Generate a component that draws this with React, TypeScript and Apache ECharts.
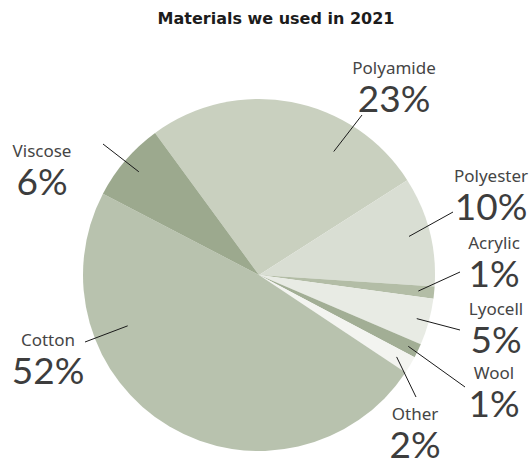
import React, { useEffect, useRef } from "react";
import * as echarts from "echarts";

// Data (clockwise from the Polyamide slice)
const materials = ["Polyamide", "Polyester", "Acrylic", "Lyocell", "Wool", "Other", "Cotton", "Viscose"];
// slice shares as drawn in the picture
const shares = [26.0, 10.1, 1.1, 4.3, 1.3, 1.6, 48.3, 7.3];
// printed percentage labels
const percentLabels = ["23%", "10%", "1%", "5%", "1%", "2%", "52%", "6%"];
const titleText = "Materials we used in 2021";

// Styling / layout (not data)
const colors = ["#c9d0bf", "#d9ded3", "#b3bda6", "#e8ebe4", "#a2ae95", "#f3f4f0", "#b8c2ae", "#9ca98e"];
const CX = 259;
const CY = 275;
const R = 176;
const START_ANGLE = 126.2;
// label block anchors: [centerX, nameCenterY]
const labelAnchors = [[394, 67], [491, 175], [494, 242], [496, 308], [494, 372], [415, 413], [48, 339], [42, 150]];
// label line outer ends
const lineEnds = [[362, 115], [453, 212], [460, 272], [460, 330], [465, 387], [416, 397], [85, 342], [103, 144]];
// where the line starts inside the slice: [fraction along slice, fraction of radius]
const lineStarts = [[0.72, 0.82], [0.5, 0.88], [0.5, 0.91], [0.5, 0.93], [0.5, 0.94], [0.5, 0.91], [0.72, 0.8], [0.5, 0.9]];

const TITLE_FONT = "'DejaVu Sans', sans-serif";
const NAME_FONT = "'Noto Sans', sans-serif";
const VALUE_FONT = "Lato, sans-serif";

export default function App() {
  const ref = useRef<HTMLDivElement>(null);
  useEffect(() => {
    document.body.style.margin = "0";
    const chart = echarts.init(ref.current!, null, { renderer: "svg" });
    const total = shares.reduce((a, b) => a + b, 0);
    const starts: number[] = [];
    let acc = 0;
    shares.forEach((v) => {
      starts.push(acc);
      acc += v;
    });
    const startPoint = (i: number) => {
      const [f, rf] = lineStarts[i];
      const deg = START_ANGLE - ((starts[i] + shares[i] * f) / total) * 360;
      const rad = (deg * Math.PI) / 180;
      return [CX + Math.cos(rad) * R * rf, CY - Math.sin(rad) * R * rf];
    };
    const lines = materials.map((_, i) => {
      const s = startPoint(i);
      const e = lineEnds[i];
      return {
        type: "line",
        silent: true,
        z: 100,
        shape: { x1: s[0], y1: s[1], x2: e[0], y2: e[1] },
        style: { stroke: "#1a1a1a", lineWidth: 1 },
      };
    });
    chart.setOption({
      animation: false,
      backgroundColor: "#ffffff",
      title: {
        text: titleText,
        left: 271,
        textAlign: "center",
        top: 5,
        textStyle: { fontFamily: TITLE_FONT, fontSize: 16, fontWeight: "bold", color: "#1c1c1c" },
      },
      graphic: lines,
      series: [
        {
          type: "pie",
          center: [CX, CY],
          radius: R,
          startAngle: START_ANGLE,
          clockwise: true,
          avoidLabelOverlap: false,
          silent: true,
          data: materials.map((name, i) => ({
            name,
            value: shares[i],
            itemStyle: { color: colors[i] },
          })),
          label: {
            show: true,
            position: "outside",
            formatter: (p: any) => `{n|${p.name}}\n{v|${percentLabels[p.dataIndex]}}`,
            rich: {
              n: { fontFamily: NAME_FONT, fontSize: 17, lineHeight: 28, color: "#454545", align: "center" },
              v: { fontFamily: VALUE_FONT, fontSize: 37, lineHeight: 32, color: "#3d3d3d", align: "center" },
            },
          },
          labelLine: { show: false },
          labelLayout: (params: any) => {
            const i = params.dataIndex;
            const [ax, ay] = labelAnchors[i];
            return {
              x: ax,
              y: ay - 14,
              align: "center",
              verticalAlign: "top",
            };
          },
        },
      ],
    });
    return () => chart.dispose();
  }, []);
  return <div ref={ref} style={{ width: 531, height: 458 }} />;
}
